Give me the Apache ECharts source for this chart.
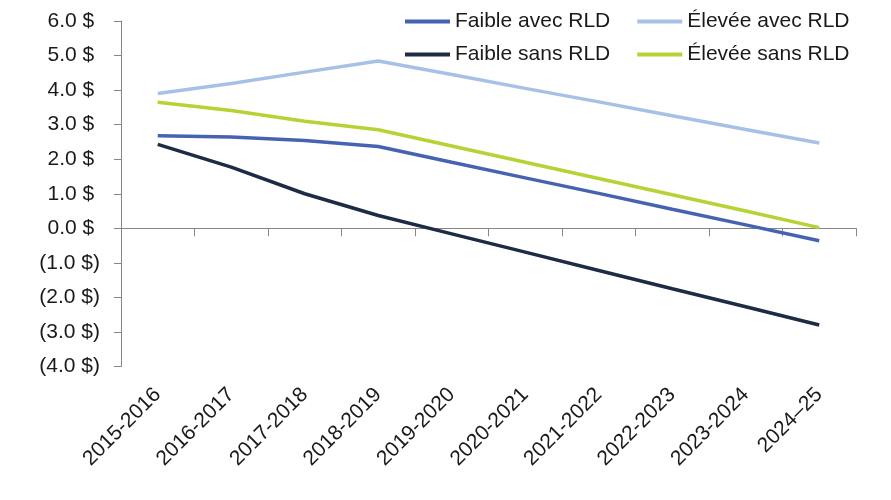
<!DOCTYPE html>
<html>
<head>
<meta charset="utf-8">
<script src="https://cdn.jsdelivr.net/npm/echarts@6/dist/echarts.min.js"></script>
<style>
  html, body { margin: 0; padding: 0; background: #fff; }
  #chart { width: 891px; height: 500px; }
</style>
</head>
<body>
<div id="chart"></div>
<script>
// categories (years)
var annees = ['2015-2016', '2016-2017', '2017-2018', '2018-2019', '2019-2020',
              '2020-2021', '2021-2022', '2022-2023', '2023-2024', '2024–25'];

// values
var faibleAvecRLD = [2.68, 2.64, 2.54, 2.37, 1.91, 1.46, 1.01, 0.55, 0.10, -0.36];
var eleveeAvecRLD = [3.90, 4.19, 4.52, 4.84, 4.45, 4.05, 3.66, 3.26, 2.86, 2.47];
var faibleSansRLD = [2.43, 1.77, 1.00, 0.37, -0.16, -0.69, -1.22, -1.75, -2.27, -2.80];
var eleveeSansRLD = [3.65, 3.41, 3.10, 2.85, 2.38, 1.91, 1.44, 0.97, 0.50, 0.02];

var police = 'Liberation Sans, Arial, sans-serif';
var couleurTexte = '#1a1a1a';
var couleurAxe = '#868686';

var myChart = echarts.init(document.getElementById('chart'));

function serie(nom, data, couleur) {
    return {
        name: nom,
        type: 'line',
        data: data,
        xAxisIndex: 0,
        symbol: 'none',
        showSymbol: false,
        lineStyle: {width: 3.5, color: couleur},
        itemStyle: {color: couleur}
    };
}

var legendeCommune = {
    orient: 'horizontal',
    left: 405,
    padding: 0,
    icon: 'rect',
    itemWidth: 45,
    itemHeight: 4,
    itemGap: 27,
    textStyle: {fontFamily: police, fontSize: 21, color: couleurTexte}
};

var option = {
    animation: false,
    backgroundColor: '#fff',
    legend: [
        Object.assign({top: 11, data: ['Faible avec RLD', 'Élevée avec RLD']}, legendeCommune),
        Object.assign({top: 44, data: ['Faible sans RLD', 'Élevée sans RLD']}, legendeCommune)
    ],
    grid: {left: 121, right: 35, top: 21, bottom: 133.5, containLabel: false},
    xAxis: [
        {
            // axis line on zero, with ticks
            type: 'category',
            data: annees,
            position: 'bottom',
            boundaryGap: true,
            axisLine: {onZero: true, lineStyle: {color: couleurAxe, width: 1}},
            axisTick: {show: true, interval: 0, length: 8, lineStyle: {color: couleurAxe}},
            axisLabel: {show: false, interval: 0},
            splitLine: {show: false}
        },
        {
            // labels only, at the bottom of the plot
            type: 'category',
            data: annees,
            position: 'bottom',
            boundaryGap: true,
            axisLine: {show: false, onZero: false},
            axisTick: {show: false},
            splitLine: {show: false},
            axisLabel: {
                interval: 0,
                rotate: 45,
                margin: 25,
                fontFamily: police,
                fontSize: 21,
                color: couleurTexte
            }
        }
    ],
    yAxis: {
        type: 'value',
        min: -4,
        max: 6,
        interval: 1,
        axisLine: {show: true, lineStyle: {color: couleurAxe, width: 1}},
        axisTick: {show: true, length: 7, lineStyle: {color: couleurAxe}},
        splitLine: {show: false},
        axisLabel: {
            margin: 21,
            fontFamily: police,
            fontSize: 21,
            color: couleurTexte,
            formatter: function (v) {
                if (v < 0) {
                    return '(' + Math.abs(v).toFixed(1) + ' $)';
                }
                return v.toFixed(1) + ' $\u00a0';
            }
        }
    },
    series: [
        serie('Élevée avec RLD', eleveeAvecRLD, '#a7c1e6'),
        serie('Élevée sans RLD', eleveeSansRLD, '#b5d334'),
        serie('Faible avec RLD', faibleAvecRLD, '#4563b0'),
        serie('Faible sans RLD', faibleSansRLD, '#1e2b45')
    ]
};

myChart.setOption(option);
</script>
</body>
</html>
